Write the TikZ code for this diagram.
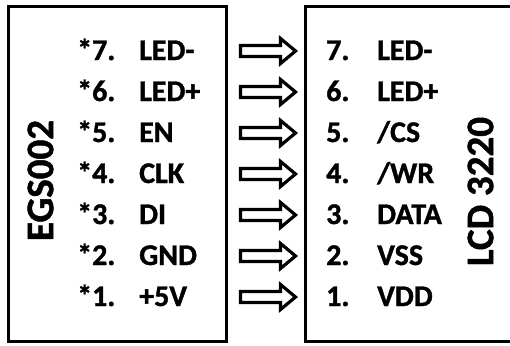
\documentclass[tikz,border=0pt]{standalone}
\usepackage{fontspec}
\setmainfont{Carlito}[BoldFeatures={FakeBold=1.2}]
\begin{document}
\begin{tikzpicture}[x=1pt,y=-1pt,
  lbl/.style={anchor=base west,inner sep=0pt,font=\bfseries\fontsize{30}{30}\selectfont},
  title/.style={inner sep=0pt,rotate=90,font=\bfseries\fontsize{39}{39}\selectfont},
  box/.style={line width=3pt},
  arr/.style={line width=3.2pt,miter limit=10,line join=miter}]
\useasboundingbox (0,0) rectangle (510,345);
\clip (0,0) rectangle (510,345);
% boxes
\draw[box] (8.5,7) rectangle (226.5,341.5);
\draw[box] (520,7) -- (305,7) -- (305,341.5) -- (520,341.5);
\node[title] (egs) at (40.5,180.5) {EGS002};
\node[title] (lcd) at (480.5,191.5) {LCD 3220};
% pins
\foreach \i/\n/\a/\b in {0/7/LED-/LED-,1/6/LED+/LED+,2/5/EN/{/CS},3/4/CLK/{/WR},4/3/DI/DATA,5/2/GND/VSS,6/1/+5V/VDD}{
  \node[lbl] (ln\n) at (77,60+41*\i) {*\n.};
  \node[lbl] (lt\n) at (139,60+41*\i) {\a};
  \node[lbl] (rn\n) at (326,60+41*\i) {\n.};
  \node[lbl] (rt\n) at (377,60+41*\i) {\b};
  \coordinate (as\n) at (240.5,51+41*\i);
  \draw[arr] (as\n) ++(0,-5.5) -- ++(40,0) -- ++(0,-7) -- ++(15,12.5) -- ++(-15,12.5) -- ++(0,-7) -- ++(-40,0) -- cycle;
}
\end{tikzpicture}
\end{document}
